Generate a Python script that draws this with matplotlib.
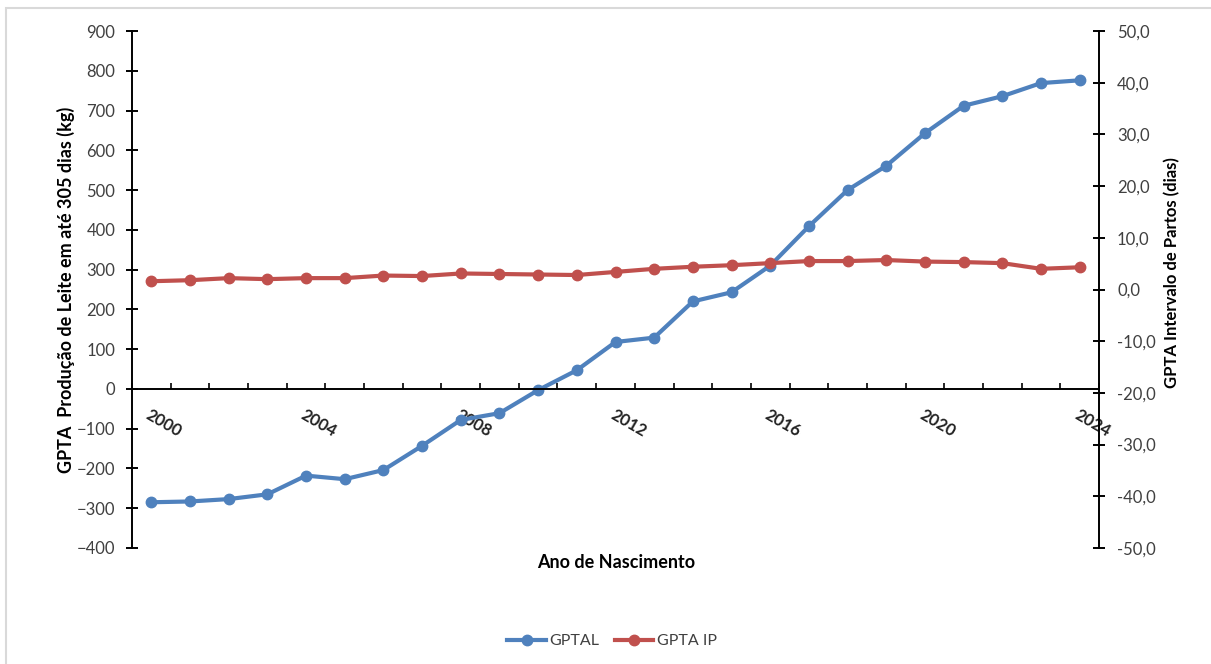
import matplotlib
matplotlib.use('Agg')
import matplotlib.pyplot as plt
from matplotlib.patches import Rectangle
from matplotlib.lines import Line2D
from matplotlib.ticker import FuncFormatter

# data
years = list(range(2000, 2025))
gptal = [-285, -283, -277, -265, -218, -227, -204, -143, -78, -61, -3, 47, 118,
         129, 220, 243, 310, 409, 500, 561, 643, 712, 736, 769, 776]
gpta_ip = [1.6, 1.8, 2.2, 2.0, 2.2, 2.2, 2.7, 2.6, 3.1, 3.0, 2.9, 2.8, 3.4,
           4.0, 4.4, 4.7, 5.1, 5.5, 5.5, 5.7, 5.4, 5.3, 5.1, 4.0, 4.3]
year_labels = [str(y) for y in years[::4]]

blue = '#4F81BD'
red = '#C0504D'
txt = '#404040'

plt.rcParams['font.family'] = ['Lato', 'DejaVu Sans']

fig = plt.figure(figsize=(12.11, 6.64), dpi=100)
ax = fig.add_axes([132 / 1211, 1 - 548 / 664, (1099 - 132) / 1211, (548 - 31) / 664])
ax2 = ax.twinx()

# outer light frame like the spreadsheet chart area
fig.add_artist(Rectangle((6 / 1211, -0.1), 1.2, 1 - 8 / 664 + 0.1,
                         transform=fig.transFigure, fill=False,
                         edgecolor='#d9d9d9', linewidth=1.5))

x = list(range(len(years)))
ax.plot(x, gptal, color=blue, linewidth=3, marker='o', markersize=7.5, label='GPTAL')
ax2.plot(x, gpta_ip, color=red, linewidth=3, marker='o', markersize=7.5, label='GPTA IP')

ax.set_xlim(-0.5, len(years) - 0.5)
ax.set_ylim(-400, 900)
ax2.set_ylim(-50, 50)
ax.set_yticks(range(-400, 901, 100))
ax2.set_yticks(range(-50, 51, 10))
ax2.yaxis.set_major_formatter(FuncFormatter(lambda v, p: f'{v:.1f}'.replace('.', ',')))

for s in ['top', 'right']:
    ax.spines[s].set_visible(False)
for s in ['top', 'left', 'bottom']:
    ax2.spines[s].set_visible(False)
ax.spines['bottom'].set_position(('data', 0))
for sp in [ax.spines['left'], ax.spines['bottom'], ax2.spines['right']]:
    sp.set_linewidth(1.4)
    sp.set_color('black')

# category boundaries as ticks, year labels at category centres
ax.set_xticks([i - 0.5 for i in range(len(years) + 1)])
ax.set_xticklabels([])
ax.set_xticks(x[::4], minor=True)
ax.set_xticklabels(year_labels, minor=True, rotation=-30, ha='left', va='top',
                   rotation_mode='anchor', fontweight='bold', color='#222222')
ax.tick_params(axis='x', which='major', direction='in', length=4, width=1.2)
ax.tick_params(axis='x', which='minor', length=0, pad=13, labelsize=12)

ax.tick_params(axis='y', direction='inout', length=8, width=1.4, pad=8,
               labelsize=12, labelcolor=txt)
ax2.tick_params(axis='y', direction='inout', length=8, width=1.4, pad=9,
                labelsize=12, labelcolor=txt)

fig.text(66 / 1211, 1 - 290 / 664, 'GPTA  Produção de Leite em até 305 dias (kg)',
         rotation=90, ha='center', va='center', fontsize=13, fontweight='bold')
fig.text(1172 / 1211, 1 - 273 / 664, 'GPTA Intervalo de Partos (dias)',
         rotation=90, ha='center', va='center', fontsize=12, fontweight='bold')
fig.text(616 / 1211, 1 - 563 / 664, 'Ano de Nascimento',
         ha='center', va='center', fontsize=13, fontweight='bold')

handles = [Line2D([], [], color=blue, linewidth=3, marker='o', markersize=7.5),
           Line2D([], [], color=red, linewidth=3, marker='o', markersize=7.5)]
leg = fig.legend(handles, ['GPTAL', 'GPTA IP'], loc='center',
                 bbox_to_anchor=(612 / 1211, 1 - 641 / 664), ncol=2, frameon=False,
                 fontsize=11.5, handlelength=2.4, handletextpad=0.2, columnspacing=1.0)
for t in leg.get_texts():
    t.set_color(txt)

fig.savefig('out.png', dpi=100)
